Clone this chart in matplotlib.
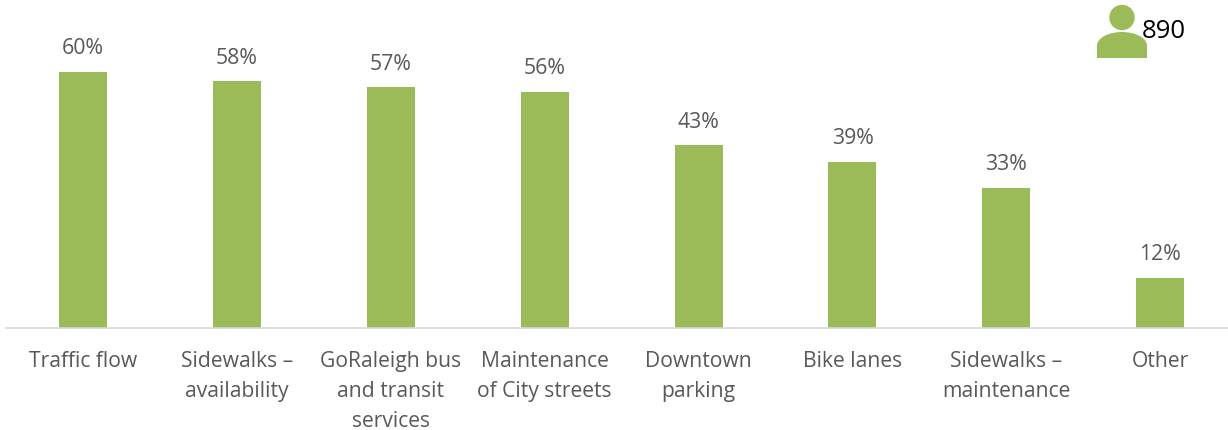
import matplotlib
matplotlib.use("Agg")
import matplotlib.pyplot as plt
from matplotlib.patches import Circle, PathPatch
from matplotlib.path import Path

# Data
categories = [
    "Traffic flow",
    "Sidewalks \u2013\navailability",
    "GoRaleigh bus\nand transit\nservices",
    "Maintenance\nof City streets",
    "Downtown\nparking",
    "Bike lanes",
    "Sidewalks \u2013\nmaintenance",
    "Other",
]
# hauteurs, les etiquettes sont arrondies dans l'original
values = [60.1, 57.9, 56.5, 55.5, 42.9, 39.0, 32.9, 11.9]
labels = ["60%", "58%", "57%", "56%", "43%", "39%", "33%", "12%"]
respondents = "890"

# Constantes
W, H = 1228, 431
GREEN = "#9BBB59"
GREY = "#595959"
BASE_Y = 329.3
PX_PER_PCT = 4.265
X0 = 6.0
STEP = 153.9
BAR_PX = 48

plt.rcParams["font.family"] = ["Open Sans", "DejaVu Sans"]

fig = plt.figure(figsize=(W / 100, H / 100), dpi=100)
ax = fig.add_axes([X0 / W, 1 - BASE_Y / H, (W - X0) / W, BASE_Y / H])
ax.set_xlim(-0.5, -0.5 + (W - X0) / STEP)
ax.set_ylim(0, BASE_Y / PX_PER_PCT)

ax.bar(range(len(values)), values, width=BAR_PX / STEP, color=GREEN, zorder=2)
for i, v in enumerate(values):
    ax.annotate(labels[i], (i, v), xytext=(0, 9.8), textcoords="offset points",
                ha="center", va="bottom", fontsize=15.3, color=GREY)

for s in ["top", "left", "right"]:
    ax.spines[s].set_visible(False)
ax.spines["bottom"].set_color("#D9D9D9")
ax.spines["bottom"].set_linewidth(1.2)
ax.set_yticks([])
ax.set_xticks(range(len(categories)))
ax.set_xticklabels(categories, fontsize=15.2, color=GREY, linespacing=1.58)
ax.tick_params(axis="x", length=0, pad=15.4)

# icone en pixels
ov = fig.add_axes([0, 0, 1, 1])
ov.set_xlim(0, W)
ov.set_ylim(H, 0)
ov.axis("off")
ov.patch.set_alpha(0)
ov.add_patch(Circle((1122, 18.5), 12.7, color=GREEN, lw=0))
body = Path(
    [(1097, 59), (1097, 47), (1097, 38), (1110, 33), (1122, 33),
     (1134, 33), (1147, 38), (1147, 47), (1147, 59), (1097, 59)],
    [Path.MOVETO, Path.LINETO, Path.CURVE4, Path.CURVE4, Path.CURVE4,
     Path.CURVE4, Path.CURVE4, Path.CURVE4, Path.LINETO, Path.CLOSEPOLY],
)
ov.add_patch(PathPatch(body, facecolor=GREEN, lw=0))
ov.text(1164, 31, respondents, ha="center", va="center", fontsize=18.5, color="black")

fig.savefig("out.png", dpi=100)
